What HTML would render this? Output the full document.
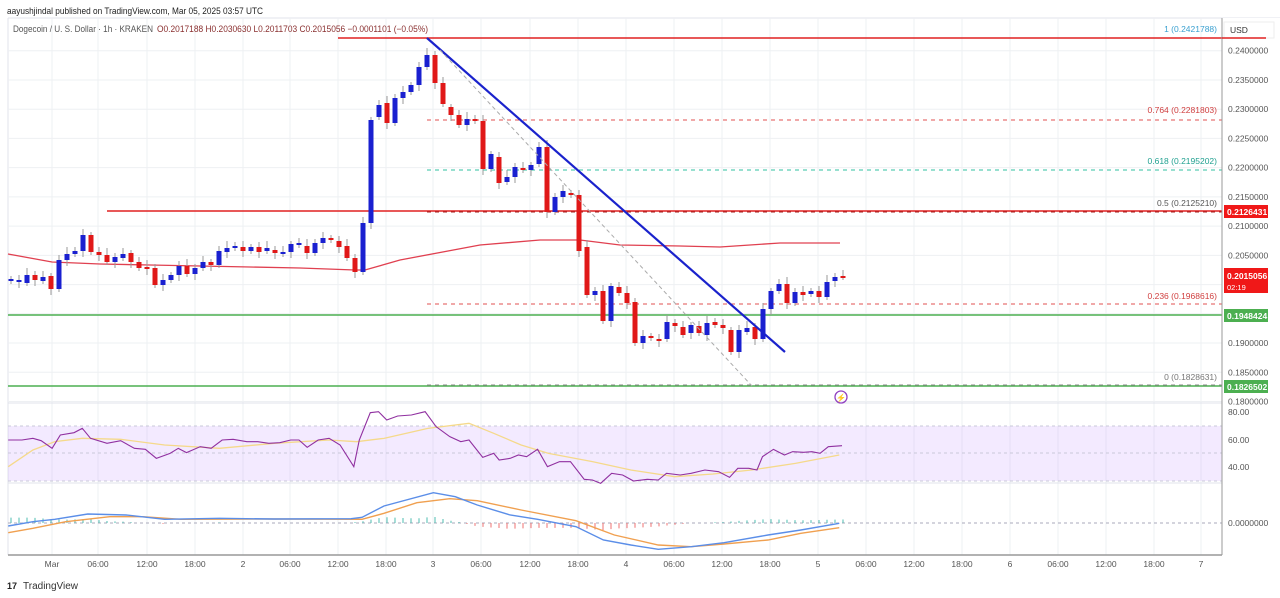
<!DOCTYPE html>
<html><head><meta charset="utf-8"><style>
body{margin:0;background:#fff;width:1280px;height:598px;overflow:hidden;font-family:"Liberation Sans",sans-serif}
svg{position:absolute;left:0;top:0}
</style></head><body>
<svg id="s" width="1280" height="598" xmlns="http://www.w3.org/2000/svg" font-family="Liberation Sans, sans-serif"></svg>
<script>
const s=document.getElementById('s');let h='';
const L=(x1,y1,x2,y2,c,w,d)=>h+=`<line x1="${x1}" y1="${y1}" x2="${x2}" y2="${y2}" stroke="${c}" stroke-width="${w||1}" ${d?`stroke-dasharray="${d}"`:''}/>`;
const T=(x,y,t,c,sz,a,fw,tl)=>h+=`<text x="${x}" y="${y}" fill="${c}" font-size="${sz||10}" text-anchor="${a||'start'}" ${fw?'font-weight="bold"':''} ${tl?`textLength="${tl}" lengthAdjust="spacingAndGlyphs"`:''}>${t}</text>`;
const R=(x,y,w,hh,c)=>h+=`<rect x="${x}" y="${y}" width="${w}" height="${hh}" fill="${c}"/>`;
const P=(pts,c,w,f)=>h+=`<polyline points="${pts.map(p=>p.join(',')).join(' ')}" fill="none" stroke="${c}" stroke-width="${w||1}"/>`;
L(8,18,1280,18,'#e0e3eb');L(8,18,8,555,'#e0e3eb');
const xs=[52,98,147,195,243,290,338,386,433,481,530,578,626,674,722,770,818,866,914,962,1010,1058,1106,1154,1201];
const xl=['Mar','06:00','12:00','18:00','2','06:00','12:00','18:00','3','06:00','12:00','18:00','4','06:00','12:00','18:00','5','06:00','12:00','18:00','6','06:00','12:00','18:00','7'];
xs.forEach((x,i)=>{L(x,18,x,555,'#eef0f3');T(x,567,xl[i],'#555',8.5,'middle')});
const py=p=>386-(p-0.1826502)*5846;
[0.24,0.235,0.23,0.225,0.22,0.215,0.21,0.205,0.2,0.195,0.19,0.185,0.18].forEach(p=>{const y=py(p);L(8,y,1222,y,'#eef0f3')});
R(8,426,1214,55,'rgba(200,160,255,0.22)');
[426,453,481].forEach(y=>L(8,y,1222,y,'#c8c8d8',1,'3,3'));
L(8,403,1222,403,'#e0e3eb');L(8,483,1222,483,'#e0e3eb');L(8,555,1222,555,'#999',1.5);
L(8,523,1222,523,'#aab',1,'3,3');
L(338,38,1222,38,'#e02020',1.5);L(107,211,1222,211,'#e02020',1.5);
L(8,315,1222,315,'#4caf50',1.5);L(8,386,1222,386,'#4caf50',1.5);
L(427,120,1222,120,'#e05050',1,'4,4');L(427,170,1222,170,'#30c0a0',1,'4,4');L(427,212,1222,212,'#a02020',1,'4,4');
L(427,304,1222,304,'#e05050',1,'4,4');L(427,385,1222,385,'#888',1,'4,4');
T(1217,32,'1 (0.2421788)','#3aa0d0',8.5,'end');T(1217,113,'0.764 (0.2281803)','#d04040',8.5,'end');
T(1217,164,'0.618 (0.2195202)','#20a090',8.5,'end');T(1217,206,'0.5 (0.2125210)','#555',8.5,'end');
T(1217,299,'0.236 (0.1968616)','#d04040',8.5,'end');T(1217,380,'0 (0.1828631)','#777',8.5,'end');
P([[8,254],[52,262],[100,264],[150,265],[200,266],[250,267],[300,268],[355,270],[365,270],[400,260],[480,245],[540,240],[580,240],[620,245],[680,246],[720,247],[780,243],[840,243]],'#e04050',1.3);
const c=[[11,279,281,1],[19,280,282,1],[27,275,283,1],[35,275,280,0],[43,277,281,1],[51,276,289,0],[59,260,289,1],[67,254,260,1],[75,251,254,1],[83,235,251,1],[91,235,252,0],[99,252,255,0],[107,255,262,0],[115,257,262,1],[123,254,258,1],[131,253,262,0],[139,262,268,0],[147,267,269,0],[155,268,285,0],[163,280,285,1],[171,275,280,1],[179,266,275,1],[187,266,274,0],[195,268,274,1],[203,262,268,1],[211,262,265,0],[219,251,265,1],[227,248,252,1],[235,246,248,1],[243,247,251,0],[251,247,251,1],[259,247,252,0],[267,248,251,1],[275,250,253,0],[283,252,254,1],[291,244,252,1],[299,243,245,1],[307,246,253,0],[315,243,253,1],[323,238,243,1],[331,238,240,0],[339,241,247,0],[347,246,258,0],[355,258,272,0],[363,223,272,1],[371,120,223,1],[379,105,117,1],[387,103,123,0],[395,98,123,1],[403,92,98,1],[411,85,92,1],[419,67,85,1],[427,55,67,1],[435,55,83,0],[443,83,104,0],[451,107,115,0],[459,115,125,0],[467,119,125,1],[475,119,121,0],[483,121,169,0],[491,154,169,1],[499,157,183,0],[507,177,182,1],[515,167,177,1],[523,168,170,0],[531,165,170,1],[539,147,164,1],[547,147,212,0],[555,197,212,1],[563,191,197,1],[571,193,195,0],[579,195,251,0],[587,247,295,0],[595,291,295,1],[603,291,321,0],[611,286,321,1],[619,287,293,0],[627,293,303,0],[635,302,343,0],[643,336,343,1],[651,336,338,0],[659,339,341,0],[667,322,339,1],[675,323,326,0],[683,327,335,0],[691,325,333,1],[699,326,333,0],[707,323,335,1],[715,322,325,0],[723,325,328,0],[731,330,352,0],[739,330,352,1],[747,328,332,1],[755,327,339,0],[763,309,339,1],[771,291,309,1],[779,284,291,1],[787,284,303,0],[795,292,303,1],[803,292,295,0],[811,291,294,1],[819,291,297,0],[827,282,297,1],[835,277,281,1],[843,276,277,0]];
c.forEach(([x,t,b,u],i)=>{const col=u?'#1a20d0':'#e01818';const wt=t-3-(i*7%5),wb=b+3+(i*3%6);L(x,wt,x,wb,'#999',1);R(x-2.5,t,5,Math.max(b-t,2),col)});
L(427,38,785,352,'#1a22cc',2.2);L(440,50,752,386,'#aaa',1,'4,3');
h+=`<circle cx="841" cy="397" r="6" fill="none" stroke="#9040c0" stroke-width="1.3"/>`;T(841,400.5,'⚡','#9040c0',8,'middle');
const X=z=>z/1.823,Y=z=>400+z/3;
const rsi=[[15,120],[40,120],[60,115],[75,122],[95,145],[110,105],[135,98],[150,85],[165,115],[195,130],[220,122],[245,145],[265,148],[285,175],[310,160],[325,145],[340,158],[365,140],[385,145],[405,120],[425,118],[450,125],[470,125],[490,130],[510,128],[530,120],[545,120],[560,142],[580,120],[600,115],[620,135],[645,200],[655,120],[675,38],[690,35],[705,60],[725,48],[750,45],[775,35],[795,80],[820,110],[840,125],[855,120],[880,172],[900,160],[910,180],[930,175],[945,165],[960,170],[980,148],[998,200],[1020,185],[1040,185],[1065,238],[1080,240],[1095,250],[1115,220],[1135,225],[1155,243],[1180,238],[1200,240],[1215,220],[1240,225],[1260,220],[1285,210],[1310,215],[1330,232],[1345,205],[1365,205],[1380,210],[1390,170],[1410,148],[1430,165],[1445,155],[1465,157],[1480,155],[1495,160],[1510,140],[1535,137]];
const rma=[[15,200],[60,150],[100,125],[150,115],[220,118],[300,135],[400,145],[500,130],[600,120],[650,125],[700,115],[780,85],[855,70],[900,100],[950,135],[1000,160],[1080,185],[1150,210],[1230,230],[1300,222],[1370,210],[1450,190],[1530,165]];
P(rma.map(p=>[X(p[0]),Y(p[1])]),'#f5d98a',1.3);P(rsi.map(p=>[X(p[0]),Y(p[1])]),'#9030a0',1.1);
const mb=[[15,378],[60,365],[100,358],[160,342],[230,345],[300,358],[400,355],[500,357],[640,356],[660,352],[700,318],[790,278],[830,290],[870,315],[930,345],[980,358],[1050,380],[1100,420],[1150,435],[1200,448],[1260,440],[1320,428],[1400,405],[1460,390],[1530,370]];
const mo=[[15,398],[60,385],[120,365],[200,350],[260,350],[330,358],[500,357],[660,358],[700,340],[760,308],[820,296],[870,302],[950,330],[1050,362],[1120,405],[1200,435],[1260,440],[1320,432],[1400,420],[1460,400],[1530,383]];
const itp=(a,z)=>{for(let i=1;i<a.length;i++)if(z<=a[i][0]){const t=(z-a[i-1][0])/(a[i][0]-a[i-1][0]);return a[i-1][1]+t*(a[i][1]-a[i-1][1])}return a[a.length-1][1]};
for(let x=11;x<=843;x+=8){const z=x*1.823;const d=(itp(mo,z)-itp(mb,z))/3*0.8;if(Math.abs(d)<0.6)continue;const col=d>0?'#4cbcb0':'#ef7070';L(x,523,x,523-d,col,1)}
P(mo.map(p=>[X(p[0]),Y(p[1])]),'#f0a050',1.4);P(mb.map(p=>[X(p[0]),Y(p[1])]),'#5b8ee8',1.4);
R(1222,18,58,580,'#fff');L(1222,18,1222,555,'#999',1);
[0.24,0.235,0.23,0.225,0.22,0.215,0.21,0.205,0.19,0.185,0.18].forEach(p=>T(1228,py(p)+3,p.toFixed(7),'#555',8.5));
T(1228,415,'80.00','#555',8.5);T(1228,443,'60.00','#555',8.5);T(1228,470,'40.00','#555',8.5);T(1228,526,'0.0000000','#555',8.5);
h+=`<rect x="1224" y="22" width="50" height="16" fill="#fff" stroke="#eee"/>`;T(1230,33,'USD','#333',8.5);
L(1222,38,1266,38,'#e02020',1.5);
R(1224,205,44,13,'#f01818');T(1227,215,'0.2126431','#fff',8.5,'start',1);
R(1224,268,44,25,'#f01818');T(1227,279,'0.2015056','#fff',8.5,'start',1);T(1227,290,'02:19','#fff',7.5);
R(1224,309,44,13,'#4caf50');T(1227,319,'0.1948424','#fff',8.5,'start',1);
R(1224,380,44,13,'#4caf50');T(1227,390,'0.1826502','#fff',8.5,'start',1);
R(0,0,1280,17,'#fff');
T(7,14,'aayushjindal published on TradingView.com, Mar 05, 2025 03:57 UTC','#222',9.5,'start',0,256);
T(13,32,'Dogecoin / U. S. Dollar · 1h · KRAKEN','#555',9,'start',0,140);
T(157,32,'O0.2017188  H0.2030630  L0.2011703  C0.2015056  −0.0001101 (−0.05%)','#8a3030',9,'start',0,271);
T(7,589,'17','#222',9,'start',1);T(23,589,'TradingView','#333',10);
s.innerHTML=h;
</script>
</body></html>
